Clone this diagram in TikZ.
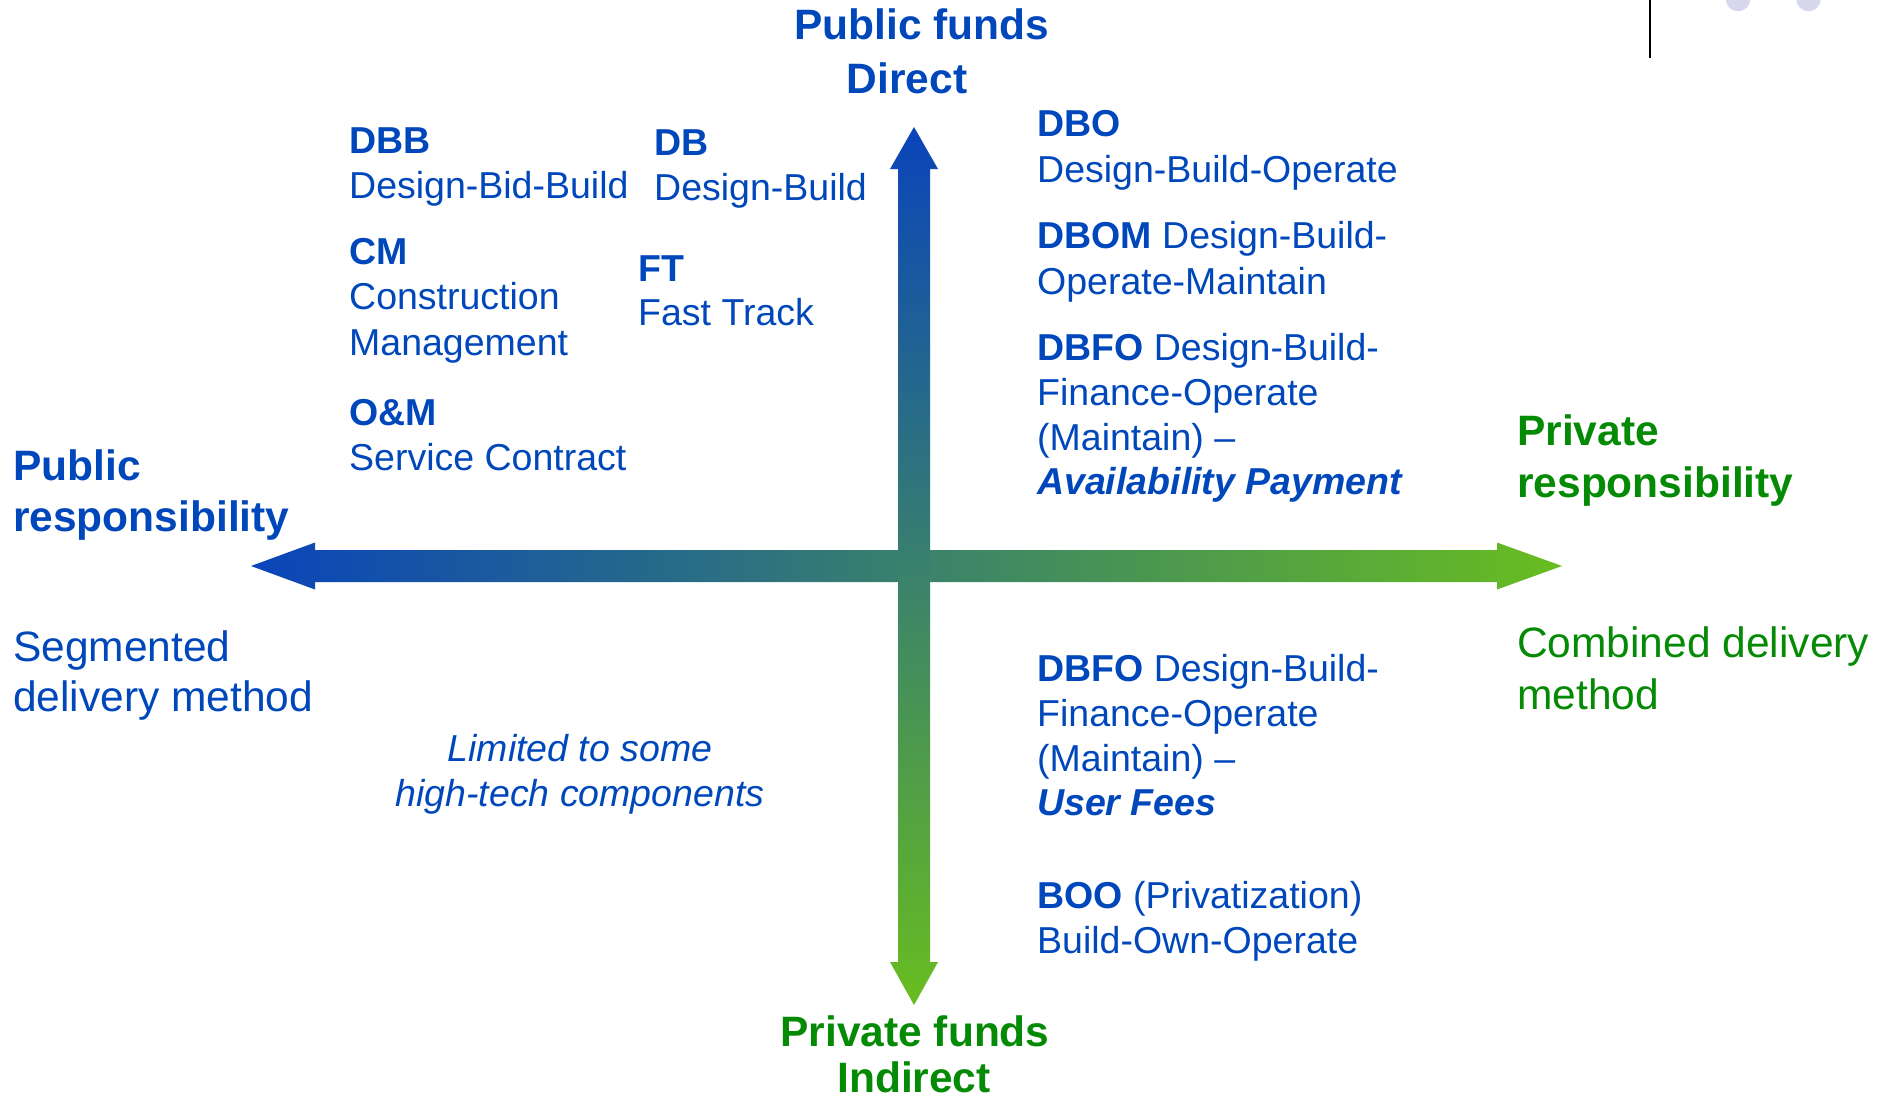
\documentclass[tikz,border=0pt]{standalone}
\usepackage{fontspec}
\setmainfont{Liberation Sans}
\definecolor{ppblue}{HTML}{0047BB}
\definecolor{ppgreen}{HTML}{058A05}
\definecolor{arrblue}{HTML}{0A44BA}
\definecolor{arrmid}{HTML}{3B8A8C}
\definecolor{arrgreen}{HTML}{68BD20}
\definecolor{dotlav}{HTML}{D8D8EC}
\begin{document}
\begin{tikzpicture}[x=1pt,y=-1pt,
  lbl/.style={inner sep=0pt, anchor=base west, text=ppblue},
  mid/.style={lbl, font=\fontsize{37.5}{45}\selectfont},
  big/.style={lbl, font=\fontsize{42.5}{50}\selectfont},
  bigb/.style={lbl, font=\fontsize{42.5}{50}\selectfont\bfseries},
  cen/.style={anchor=base},
  grn/.style={text=ppgreen}]
\useasboundingbox (0,0) rectangle (1877,1098);
\clip (0,0) rectangle (1877,1098);

% decorations in the upper right corner
\draw[line width=2.6pt, black] (1650,0) -- (1650,58);
\fill[dotlav] (1738,-1) circle (12.3);
\fill[dotlav] (1808.5,-1) circle (12.3);

% horizontal axis: public (left) to private (right) responsibility
\shade[left color=arrblue, middle color=arrmid, right color=arrgreen]
  (251,566) -- (315,542.5) -- (315,550) -- (1497,550) -- (1497,542.5)
  -- (1562,566) -- (1497,589.5) -- (1497,582) -- (315,582) -- (315,589.5) -- cycle;

% vertical axis: public funds (top) to private funds (bottom)
\shade[top color=arrblue, middle color=arrmid, bottom color=arrgreen]
  (914,127) -- (938,169) -- (930,169) -- (930,962) -- (938,962)
  -- (914,1005) -- (890,962) -- (898,962) -- (898,169) -- (890,169) -- cycle;

% axis titles
\node[bigb, cen] (pf1) at (922,39.5) {Public funds};
\node[bigb, cen] (pf2) at (907,93) {Direct};
\node[bigb, cen, grn] (prf1) at (915,1046) {Private funds};
\node[bigb, cen, grn, text depth=0pt] (prf2) at (914,1092) {Indirect};
\node[bigb] (pr1) at (13,480) {Public};
\node[bigb] (pr2) at (13,531) {responsibility};
\node[big] (seg1) at (13,661) {Segmented};
\node[big] (seg2) at (13,711) {delivery method};
\node[bigb, grn] (prr1) at (1517,445) {Private};
\node[bigb, grn] (prr2) at (1517,497) {responsibility};
\node[big, grn] (comb1) at (1517,657) {Combined delivery};
\node[big, grn] (comb2) at (1517,709) {method};

% upper left quadrant
\node[mid] (dbb1) at (349,153) {\bfseries DBB};
\node[mid] (dbb2) at (349,198) {Design-Bid-Build};
\node[mid] (db1) at (654,155) {\bfseries DB};
\node[mid] (db2) at (654,200) {Design-Build};
\node[mid] (cm1) at (349,264) {\bfseries CM};
\node[mid] (cm2) at (349,309) {Construction};
\node[mid] (cm3) at (349,355) {Management};
\node[mid] (ft1) at (638,281) {\bfseries FT};
\node[mid] (ft2) at (638,325) {Fast Track};
\node[mid] (om1) at (349,425) {\bfseries O\&M};
\node[mid] (om2) at (349,470) {Service Contract};

% upper right quadrant
\node[mid] (dbo1) at (1037,136) {\bfseries DBO};
\node[mid] (dbo2) at (1037,182) {Design-Build-Operate};
\node[mid] (dbom1) at (1037,248) {\textbf{DBOM} Design-Build-};
\node[mid] (dbom2) at (1037,294) {Operate-Maintain};
\node[mid] (ap1) at (1037,360) {\textbf{DBFO} Design-Build-};
\node[mid] (ap2) at (1037,405) {Finance-Operate};
\node[mid] (ap3) at (1037,450) {(Maintain) –};
\node[mid] (ap4) at (1037,494) {\bfseries\itshape Availability Payment};

% lower right quadrant
\node[mid] (uf1) at (1037,681) {\textbf{DBFO} Design-Build-};
\node[mid] (uf2) at (1037,726) {Finance-Operate};
\node[mid] (uf3) at (1037,771) {(Maintain) –};
\node[mid] (uf4) at (1037,815) {\bfseries\itshape User Fees};
\node[mid] (boo1) at (1037,908) {\textbf{BOO} (Privatization)};
\node[mid] (boo2) at (1037,953) {Build-Own-Operate};

% lower left quadrant
\node[mid, cen, font=\fontsize{37.5}{45}\selectfont\itshape] (lim1) at (580,761) {Limited to some};
\node[mid, cen, font=\fontsize{37.5}{45}\selectfont\itshape] (lim2) at (580,806) {high-tech components};
\end{tikzpicture}
\end{document}
